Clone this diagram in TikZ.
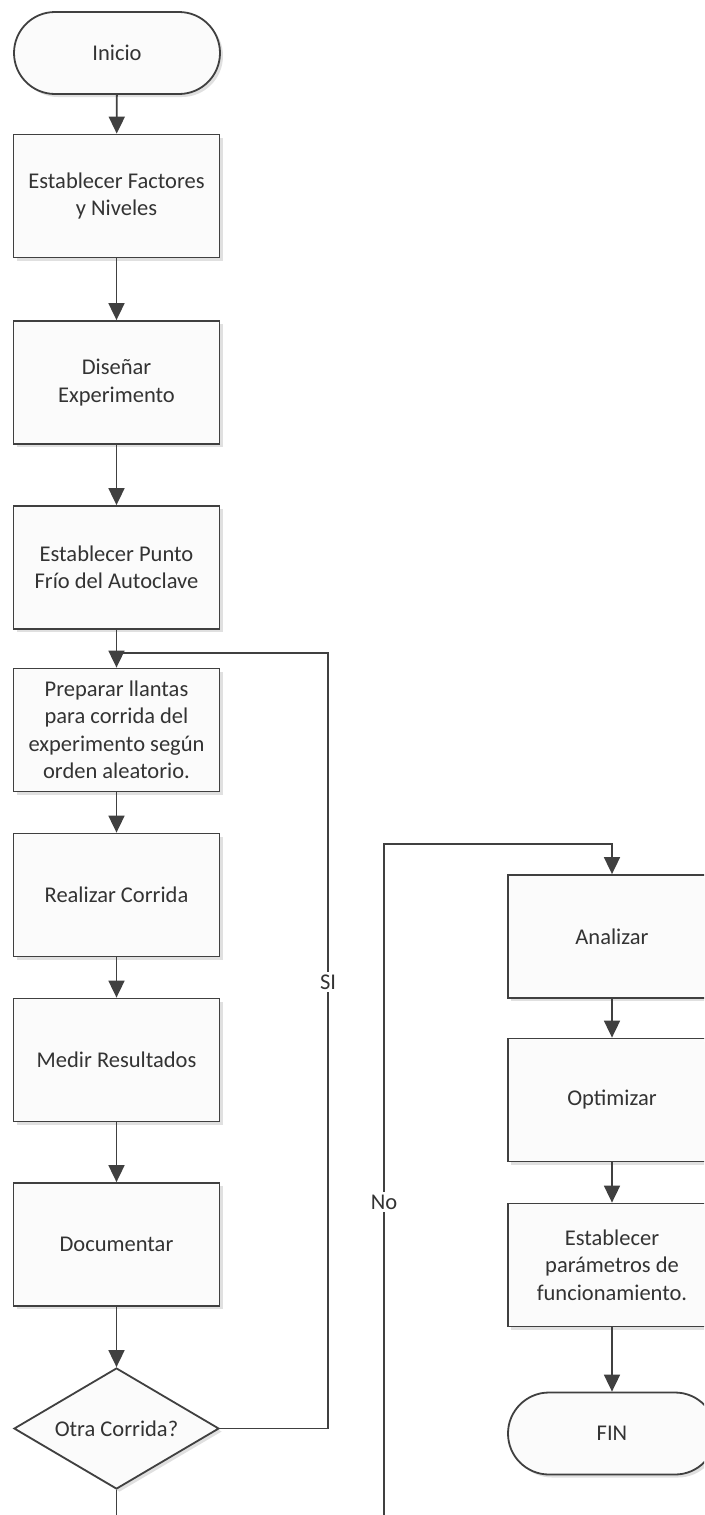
\documentclass[tikz,border=0pt]{standalone}
\usepackage{fontspec}
\setmainfont{Carlito}
\usetikzlibrary{shapes.geometric,arrows.meta,shadows}
\definecolor{edge}{HTML}{404040}
\definecolor{ink}{HTML}{333333}
\definecolor{paper}{HTML}{FBFBFB}
\begin{document}
\begin{tikzpicture}[x=1pt,y=-1pt,
  base/.style={draw=edge, line width=1.8pt, fill=paper, text=ink, align=center,
    font=\fontsize{22.5}{27.5}\selectfont, inner sep=0pt,
    drop shadow={shadow xshift=3pt, shadow yshift=-3pt, opacity=0.12, fill=black}},
  proc/.style={base, rectangle, minimum width=206pt, minimum height=123pt},
  term/.style={base, rectangle, rounded corners=41pt, minimum width=206pt, minimum height=82pt},
  decision/.style={base, diamond, aspect=1.7, minimum width=205pt, minimum height=121pt},
  flow/.style={draw=edge, line width=1.8pt, -{Triangle[width=16pt,length=17pt]}},
  wire/.style={draw=edge, line width=1.8pt},
  tag/.style={fill=white, text=ink, font=\fontsize{22.5}{27.5}\selectfont, inner sep=3pt}
]
\useasboundingbox (0,0) rectangle (704,1515);
\clip (0,0) rectangle (704,1515);
\fill[white] (0,0) rectangle (704,1515);

% main column
\node[term] (inicio) at (117,53) {Inicio};
\node[proc] (factores) at (116.5,196) {Establecer Factores\\y Niveles};
\node[proc] (disenar) at (116.5,382.5) {Diseñar\\Experimento};
\node[proc] (punto) at (116.5,567.5) {Establecer Punto\\Frío del Autoclave};
\node[proc] (preparar) at (116.5,730) {Preparar llantas\\para corrida del\\experimento según\\orden aleatorio.};
\node[proc] (realizar) at (116.5,895) {Realizar Corrida};
\node[proc] (medir) at (116.5,1060) {Medir Resultados};
\node[proc] (documentar) at (116.5,1244.5) {Documentar};
\node[decision] (otra) at (116.5,1428.5) {Otra Corrida?};

% second column
\node[proc, minimum width=208pt] (analizar) at (612,936.5) {Analizar};
\node[proc, minimum width=208pt] (optimizar) at (612,1100) {Optimizar};
\node[proc, minimum width=208pt] (parametros) at (612,1265) {Establecer\\parámetros de\\funcionamiento.};
\node[term, minimum width=208pt] (fin) at (612,1433.5) {FIN};

% straight connectors
\draw[flow] (inicio) -- (factores);
\draw[flow] (factores) -- (disenar);
\draw[flow] (disenar) -- (punto);
\draw[flow] (punto) -- (preparar);
\draw[flow] (preparar) -- (realizar);
\draw[flow] (realizar) -- (medir);
\draw[flow] (medir) -- (documentar);
\draw[flow] (documentar) -- (otra);
\draw[flow] (analizar) -- (optimizar);
\draw[flow] (optimizar) -- (parametros);
\draw[flow] (parametros) -- (fin);

% loop back on SI
\coordinate (siTurn) at (328,653);
\coordinate (siJoin) at (116.5,653);
\draw[wire] (otra.east) -| (siTurn) -- (siJoin);
\node[tag] (si) at (328,982) {SI};

% exit below the decision
\coordinate (otraOut) at (116.5,1525);
\draw[wire] (otra.south) -- (otraOut);

% branch on No
\coordinate (noIn) at (384,1525);
\coordinate (noTurn) at (384,844);
\draw[flow] (noIn) -- (noTurn) -| (analizar.north);
\node[tag] (no) at (384,1202) {No};
\end{tikzpicture}
\end{document}
